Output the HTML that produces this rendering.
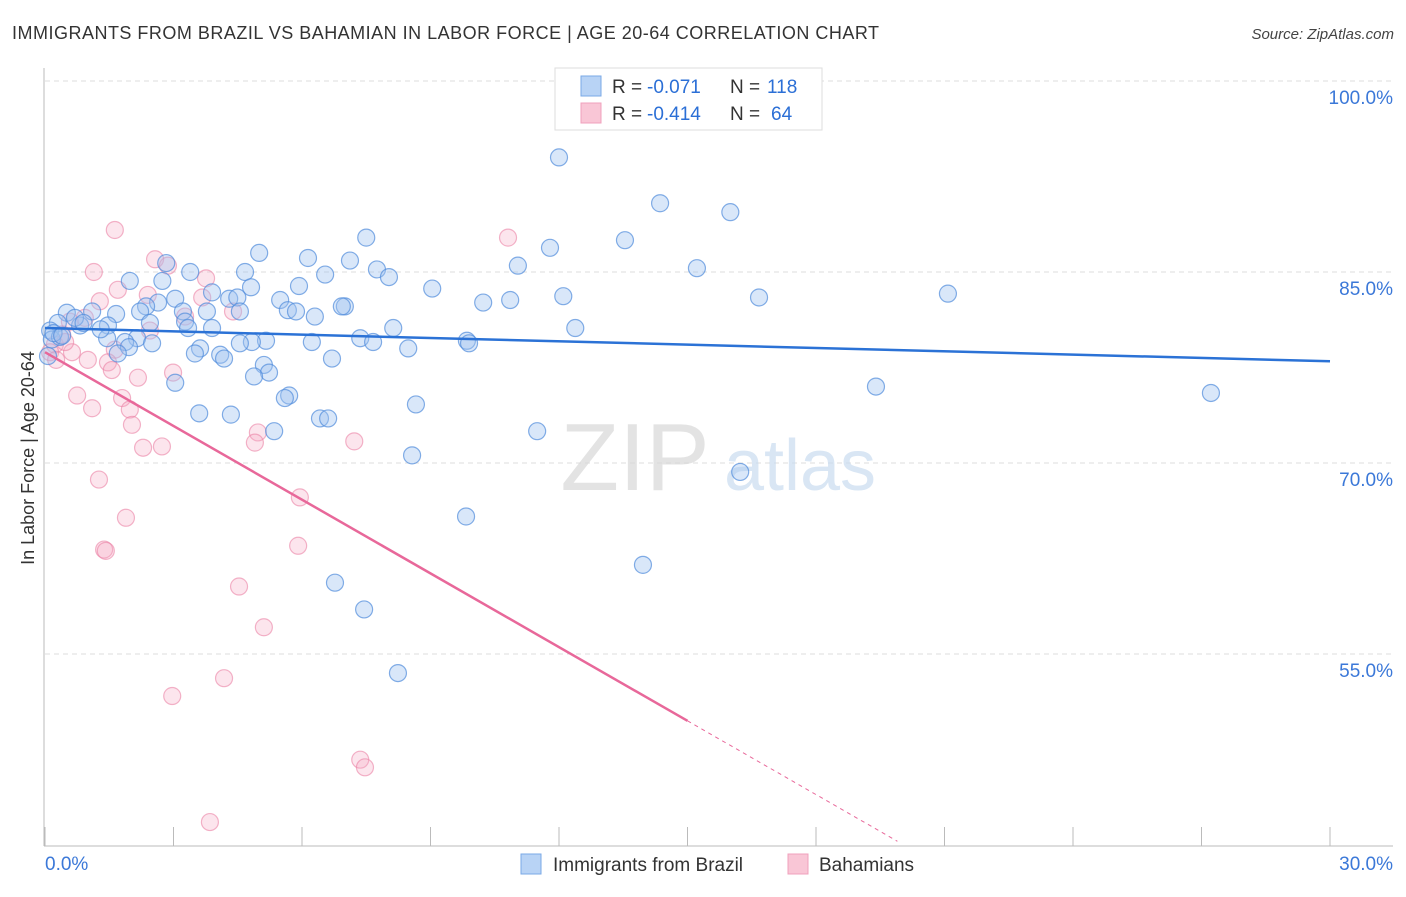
<!DOCTYPE html>
<html><head><meta charset="utf-8">
<style>
body{margin:0;background:#fff;font-family:"Liberation Sans",sans-serif;}
svg text{font-family:"Liberation Sans",sans-serif;}
</style></head>
<body>
<svg id="chart" width="1406" height="892" viewBox="0 0 1406 892">
<text x="12" y="39" font-size="18" fill="#333" textLength="867" lengthAdjust="spacing">IMMIGRANTS FROM BRAZIL VS BAHAMIAN IN LABOR FORCE | AGE 20-64 CORRELATION CHART</text>
<text x="1394" y="39" font-size="15" fill="#444" font-style="italic" text-anchor="end">Source: ZipAtlas.com</text>
<text x="34" y="458" font-size="18" fill="#333" text-anchor="middle" transform="rotate(-90 34 458)">In Labor Force | Age 20-64</text>
<g id="grid"></g>
<g id="wm">
<text x="635" y="490" font-size="96" fill="#d8d8d8" font-family="Liberation Serif" text-anchor="middle" opacity="0.7">ZIP</text>
<text x="800" y="490" font-size="72" fill="#c9dcf0" text-anchor="middle" opacity="0.7">atlas</text>
</g>
<g id="pts"></g>
<g id="lines"></g>
<g>
<rect x="555" y="68" width="267" height="62" fill="#fff" stroke="#ddd"/>
<rect x="581" y="76" width="20" height="20" fill="#b8d3f5" stroke="#7aa8e6"/>
<rect x="581" y="103" width="20" height="20" fill="#f9c6d6" stroke="#f0a0bc"/>
<text y="93" font-size="19" fill="#333"><tspan x="612">R =</tspan><tspan x="647" fill="#2b6fd6">-0.071</tspan><tspan x="730">N =</tspan><tspan x="767" fill="#2b6fd6">118</tspan></text>
<text y="120" font-size="19" fill="#333"><tspan x="612">R =</tspan><tspan x="647" fill="#2b6fd6">-0.414</tspan><tspan x="730">N =</tspan><tspan x="771" fill="#2b6fd6">64</tspan></text>
</g>
<g>
<rect x="521" y="854" width="20" height="20" fill="#b8d3f5" stroke="#7aa8e6"/>
<text x="553" y="871" font-size="19" fill="#333">Immigrants from Brazil</text>
<rect x="788" y="854" width="20" height="20" fill="#f9c6d6" stroke="#f0a0bc"/>
<text x="819" y="871" font-size="19" fill="#333">Bahamians</text>
</g>
</svg>
<script>
const yTicks=[55,70,85,100];
const yTickLabels=["55.0%","70.0%","85.0%","100.0%"];
const xEndLabels=["0.0%","30.0%"];
const brazilX=[12.0,14.36,16.0,13.54,11.79,7.5,5.0,6.14,7.12,11.04,15.22,7.75,6.54,4.67,3.39,8.03,2.83,1.98,2.74,5.93,9.04,4.81,3.9,12.1,16.67,21.08,10.86,10.23,4.3,4.49,3.04,5.49,7.0,6.93,2.64,2.36,5.67,5.86,4.55,3.78,3.22,2.22,6.3,1.66,1.1,0.51,12.38,8.13,3.9,3.27,3.34,2.45,1.47,0.82,0.3,0.12,2.15,1.45,7.36,7.66,9.85,9.9,6.23,5.16,4.83,4.55,2.5,1.87,1.96,8.48,3.62,3.5,1.7,4.09,4.18,6.7,5.11,5.23,4.88,3.04,19.4,27.22,5.7,5.6,8.66,3.6,4.34,6.42,6.61,5.35,11.49,8.57,16.23,9.83,13.96,6.77,7.45,8.24,0.16,0.07,0.35,0.7,0.2,0.9,1.3,0.4];
const brazilY=[94.0,90.4,89.7,87.5,86.9,87.7,86.5,86.1,85.9,85.5,85.3,85.2,84.8,85.0,85.0,84.6,85.7,84.3,84.3,83.9,83.7,83.8,83.4,83.1,83.0,83.3,82.8,82.6,82.9,83.0,82.9,82.8,82.3,82.3,82.6,82.3,82.0,81.9,81.9,81.9,81.9,81.9,81.5,81.7,81.9,81.8,80.6,80.6,80.6,81.1,80.6,81.0,80.8,80.8,81.0,80.4,79.8,79.8,79.8,79.5,79.6,79.4,79.5,79.6,79.5,79.4,79.4,79.5,79.1,79.0,79.0,78.6,78.6,78.5,78.2,78.2,77.7,77.1,76.8,76.3,76.0,75.5,75.3,75.1,74.6,73.9,73.8,73.5,73.5,72.5,72.5,70.6,69.3,65.8,62.0,60.6,58.5,53.5,79.7,78.4,79.9,81.4,80.2,81.0,80.5,80.0];
const bahX=[1.63,10.81,2.57,2.87,1.14,3.76,1.7,2.4,3.67,1.28,4.39,3.27,0.93,0.58,2.45,0.4,0.23,0.63,1.63,1.0,1.47,1.56,2.17,2.99,0.75,1.8,1.1,1.98,2.03,4.97,4.9,2.29,2.73,7.22,1.26,5.95,1.89,5.91,1.38,1.42,4.53,5.11,4.18,2.97,7.36,7.47,3.85,0.12,0.26,0.47];
const bahY=[88.3,87.7,86.0,85.5,85.0,84.5,83.6,83.2,83.0,82.7,81.9,81.5,81.4,81.1,80.4,80.1,79.3,78.7,78.9,78.1,77.9,77.3,76.7,77.1,75.3,75.1,74.3,74.2,73.0,72.4,71.6,71.2,71.3,71.7,68.7,67.3,65.7,63.5,63.2,63.1,60.3,57.1,53.1,51.7,46.7,46.1,41.8,78.7,78.1,79.5];
const brazilTrend=[80.6,-0.087]; // intercept, slope
const bahTrend=[78.7,-1.93];
const bahSolidEnd=15, bahDashEnd=19.9;

const NS="http://www.w3.org/2000/svg";
const X0=45,X1=1330,Y100=81,PX15=191;
const sx=v=>X0+(v/30)*(X1-X0);
const sy=v=>Y100+(100-v)/15*PX15;
function mk(tag,attrs,parent){const e=document.createElementNS(NS,tag);for(const k in attrs)e.setAttribute(k,attrs[k]);parent.appendChild(e);return e;}
const grid=document.getElementById('grid');
yTicks.forEach((t,i)=>{
  const l=mk('line',{x1:X0,x2:1393,y1:sy(t),y2:sy(t),stroke:'#ddd','stroke-dasharray':'5,4'},grid);
  
  
  const tx=mk('text',{x:1393,y:sy(t)+23,'font-size':19,fill:'#3b78d8','text-anchor':'end'},grid);
  tx.textContent=yTickLabels[i];
  
  
});
const ax=mk('line',{x1:44,x2:44,y1:68,y2:846,stroke:'#bbb'},grid);


const bx=mk('line',{x1:44,x2:1393,y1:846,y2:846,stroke:'#bbb'},grid);


for(let i=0;i<=10;i++){
  const t=mk('line',{x1:sx(i*3),x2:sx(i*3),y1:827,y2:846,stroke:'#bbb'},grid);
  
  
}
const xl=mk('text',{x:45,y:870,'font-size':19,fill:'#3b78d8'},grid);xl.textContent=xEndLabels[0];


const xr=mk('text',{x:1393,y:870,'font-size':19,fill:'#3b78d8','text-anchor':'end'},grid);xr.textContent=xEndLabels[1];



const pts=document.getElementById('pts');
bahX.forEach((v,i)=>{
  const c=mk('circle',{cx:sx(v),cy:sy(bahY[i]),r:8.5,fill:'rgba(245,170,195,0.3)',stroke:'rgba(235,130,165,0.6)','stroke-width':1.2},pts);
  
  
});
brazilX.forEach((v,i)=>{
  const c=mk('circle',{cx:sx(v),cy:sy(brazilY[i]),r:8.5,fill:'rgba(160,195,240,0.4)',stroke:'rgba(80,140,220,0.7)','stroke-width':1.2},pts);
  
  
});
const lines=document.getElementById('lines');
const f=(tr,x)=>tr[0]+tr[1]*x;
const bl=mk('line',{x1:sx(0),y1:sy(f(brazilTrend,0)),x2:sx(30),y2:sy(f(brazilTrend,30)),stroke:'#2b72d6','stroke-width':2.5},lines);


const pl=mk('line',{x1:sx(0),y1:sy(f(bahTrend,0)),x2:sx(bahSolidEnd),y2:sy(f(bahTrend,bahSolidEnd)),stroke:'#e8689a','stroke-width':2.5},lines);


const pd=mk('line',{x1:sx(bahSolidEnd),y1:sy(f(bahTrend,bahSolidEnd)),x2:sx(bahDashEnd),y2:sy(f(bahTrend,bahDashEnd)),stroke:'#e8689a','stroke-width':1,'stroke-dasharray':'4,4'},lines);


</script>
</body></html>
